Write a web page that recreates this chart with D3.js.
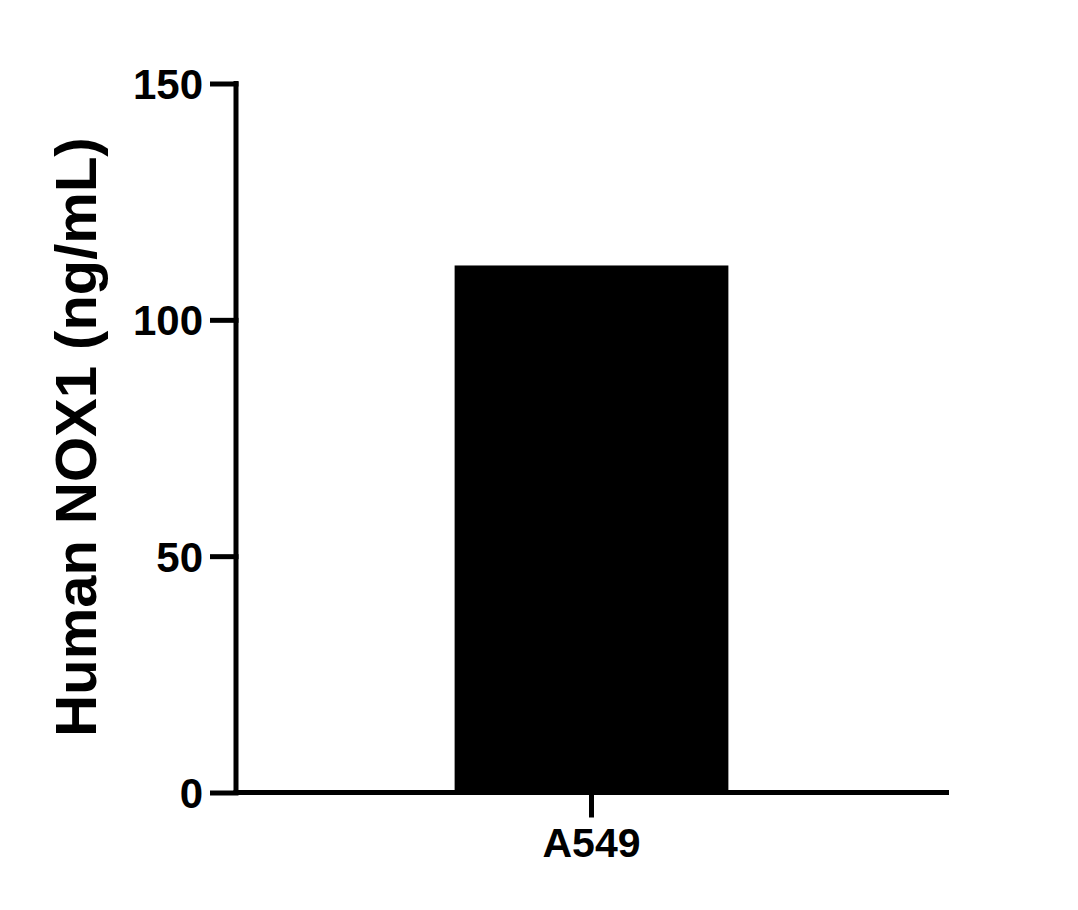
<!DOCTYPE html>
<html>
<head>
<meta charset="utf-8">
<title>Human NOX1</title>
<script src="https://d3js.org/d3.v7.min.js"></script>
<style>
  body { margin: 0; background: #fff; }
  text { font-family: "Liberation Sans", Arial, sans-serif; font-weight: bold; fill: #000; }
</style>
</head>
<body>
<div id="chart"></div>
<script>
// data
let categories = ['A549'];
let valores = [111.5];
let yTicks = [0, 50, 100, 150];
let yTitulo = 'Human NOX1 (ng/mL)';

let svgw = 1078;
let svgh = 910;
let margen = { sup: 83.5, inf: 117.5, izq: 236, der: 131 };
let vizw = svgw - margen.izq - margen.der;
let vizh = svgh - margen.sup - margen.inf;

let misvg = d3.select('#chart')
  .append('svg')
  .attr('width', svgw)
  .attr('height', svgh);

let escala_x = d3.scaleBand()
  .domain(categories)
  .range([0, vizw])
  .padding(0.444);

let escala_y = d3.scaleLinear()
  .domain([0, 150])
  .range([vizh, 0]);

let g = misvg.append('g')
  .attr('transform', `translate(${margen.izq}, ${margen.sup})`);

// barras
g.selectAll('rect')
  .data(valores)
  .enter()
  .append('rect')
  .attr('x', (d, i) => escala_x(categories[i]))
  .attr('y', d => escala_y(d))
  .attr('width', escala_x.bandwidth())
  .attr('height', d => vizh - escala_y(d))
  .attr('fill', '#000');

// eje x
let eje_x = d3.axisBottom(escala_x).tickSize(25).tickSizeOuter(0).tickPadding(10);
let gx = g.append('g')
  .attr('transform', `translate(0, ${vizh})`)
  .call(eje_x);
gx.select('.domain').attr('stroke-width', 5).attr('stroke', '#000')
  .attr('d', `M-2.5,0H${vizw + 2}`);
gx.selectAll('.tick line').attr('stroke-width', 5).attr('stroke', '#000');
gx.selectAll('.tick text')
  .style('font-size', '41px')
  .attr('dy', '0.71em');

// eje y
let eje_y = d3.axisLeft(escala_y).tickValues(yTicks).tickSize(26).tickSizeOuter(0).tickPadding(7);
let gy = g.append('g').call(eje_y);
gy.select('.domain').attr('stroke-width', 5).attr('stroke', '#000')
  .attr('d', `M0,-2.5V${vizh}`);
gy.selectAll('.tick line').attr('stroke-width', 5).attr('stroke', '#000')
  .attr('x1', 2.5);
gy.selectAll('.tick text')
  .style('font-size', '42px')
  .attr('dy', '0.36em');

// titulo y
misvg.append('text')
  .attr('transform', `translate(96, 437) rotate(-90)`)
  .attr('text-anchor', 'middle')
  .style('font-size', '58px')
  .text(yTitulo);
</script>
</body>
</html>
